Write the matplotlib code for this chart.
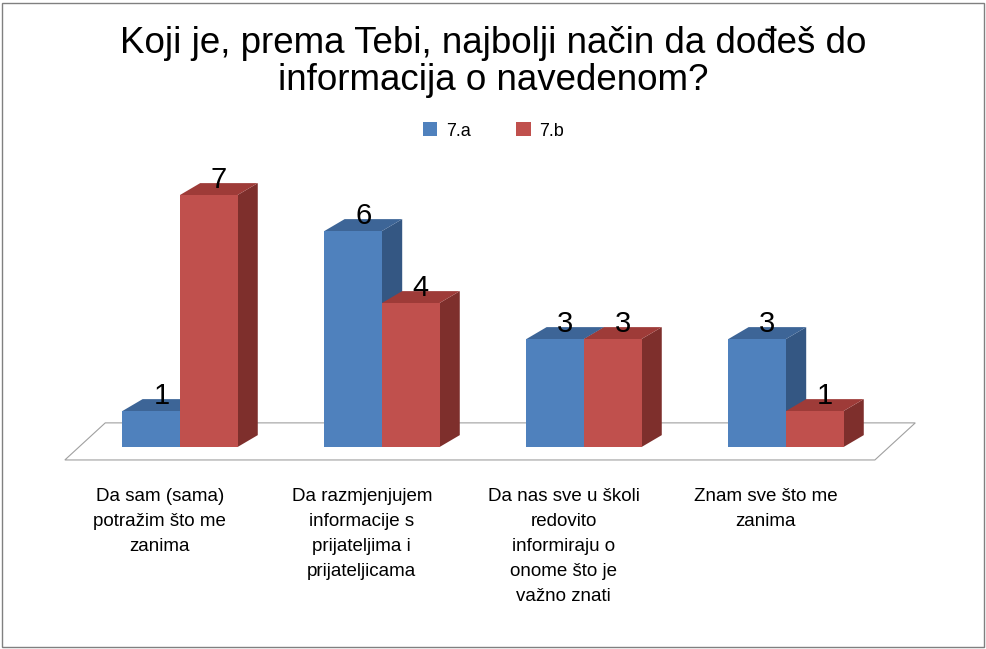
import matplotlib
matplotlib.use("Agg")
import matplotlib.pyplot as plt
from matplotlib.patches import Polygon, Rectangle

plt.rcParams["font.family"] = "Liberation Sans"

categories = [
    "Da sam (sama)\npotražim što me\nzanima",
    "Da razmjenjujem\ninformacije s\nprijateljima i\nprijateljicama",
    "Da nas sve u školi\nredovito\ninformiraju o\nonome što je\nvažno znati",
    "Znam sve što me\nzanima",
]
series_names = ["7.a", "7.b"]
values_a = [1, 6, 3, 3]
values_b = [7, 4, 3, 1]

face = ["#4F81BD", "#C0504D"]
top = ["#3D6597", "#9E3B38"]
side = ["#345783", "#7E2F2C"]

W, H = 987, 649
U = 36.0
fig = plt.figure(figsize=(W / 100, H / 100), dpi=100)
ax = fig.add_axes([0, 0, 1, 1])
# pixel mapping: group i centre at 180+202*i px, value v at 447-U*v px from top
ax.set_xlim(-180 / 202, (W - 180) / 202)
ax.set_ylim((447 - H) / U, 447 / U)
ax.axis("off")

bw = 0.285
dx, dy = 0.1, 0.33

# floor
floor = Polygon([(-0.57, -0.36), (3.44, -0.36), (3.64, 0.67), (-0.37, 0.67)],
                closed=True, facecolor="white", edgecolor="#A0A0A0", lw=0.8, zorder=1)
ax.add_patch(floor)

for i in range(len(categories)):
    for s, vals in enumerate([values_a, values_b]):
        x0 = i - bw + s * bw
        v = vals[i]
        ax.add_patch(Polygon([(x0 + bw, 0), (x0 + bw + dx, dy), (x0 + bw + dx, v + dy), (x0 + bw, v)],
                             closed=True, facecolor=side[s], edgecolor="none", zorder=2 + s))
        ax.add_patch(Polygon([(x0, v), (x0 + dx, v + dy), (x0 + bw + dx, v + dy), (x0 + bw, v)],
                             closed=True, facecolor=top[s], edgecolor="none", zorder=2 + s))
        ax.add_patch(Rectangle((x0, 0), bw, v, facecolor=face[s], edgecolor="none", zorder=2 + s))
        ax.text(x0 + bw / 2 + dx / 2, v + dy - 0.3, str(v), ha="center", va="bottom",
                fontsize=21, zorder=10)
    ax.text(i - 0.1, -1.15, categories[i], ha="center", va="top", fontsize=13.5, linespacing=1.6)

fig.text(0.5, 1 - 62 / H, "Koji je, prema Tebi, najbolji način da dođeš do\ninformacija o navedenom?",
         ha="center", va="center", fontsize=26.5, linespacing=1.1)

handles = [Rectangle((0, 0), 1, 1, facecolor=c) for c in face]
fig.legend(handles, series_names, loc="center", bbox_to_anchor=(0.5, 1 - 131 / H), ncol=2,
           frameon=False, fontsize=13, handlelength=0.8, handleheight=0.8,
           handletextpad=0.5, columnspacing=2.5)

fig.add_artist(Rectangle((0.002, 0.003), 0.995, 0.993, transform=fig.transFigure,
                         fill=False, edgecolor="#808080", lw=1))

fig.savefig("out.png", dpi=100)
